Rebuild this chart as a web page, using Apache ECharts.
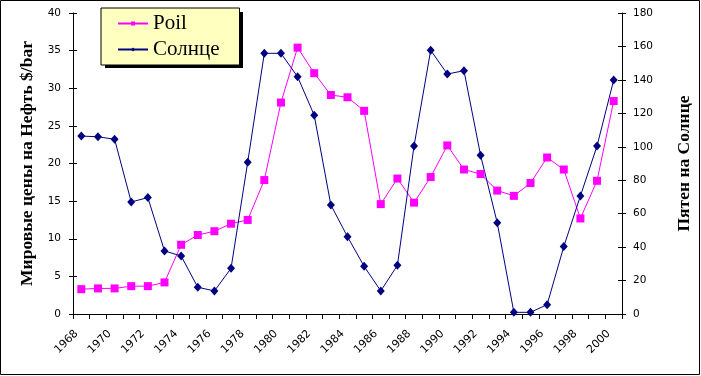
<!DOCTYPE html>
<html>
<head>
<meta charset="utf-8">
<script src="https://cdn.jsdelivr.net/npm/echarts@6/dist/echarts.min.js"></script>
<style>
html,body{margin:0;padding:0;background:#fff;}
#c{width:701px;height:376px;}
</style>
</head>
<body>
<div id="c"></div>
<script>
var years = ['1968','1969','1970','1971','1972','1973','1974','1975','1976','1977','1978','1979','1980','1981','1982','1983','1984','1985','1986','1987','1988','1989','1990','1991','1992','1993','1994','1995','1996','1997','1998','1999','2000'];
var poil = [3.3,3.4,3.4,3.7,3.7,4.2,9.2,10.5,11.0,12.0,12.5,17.8,28.1,35.4,32.0,29.1,28.8,27.0,14.6,18.0,14.8,18.2,22.4,19.2,18.6,16.4,15.7,17.4,20.8,19.2,12.7,17.7,28.3];
var sun = [106.4,106.0,104.5,67.0,69.6,37.7,34.7,16.0,13.8,27.3,90.7,155.9,155.9,141.9,118.8,65.2,46.2,28.5,13.8,29.1,100.5,157.7,143.5,145.5,94.9,54.6,1,1,5.6,40.3,70.6,100.5,139.9];
var leftTicks = {min:0, max:40, interval:5};
var rightTicks = {min:0, max:180, interval:20};
var serif = "'Liberation Serif','Times New Roman',serif";
var sans = "'DejaVu Sans',sans-serif";

var chart = echarts.init(document.getElementById('c'), null, {renderer:'canvas'});
var axisLine = {show:true, lineStyle:{color:'#000', width:1}};
chart.setOption({
  animation:false,
  backgroundColor:'#fff',
  textStyle:{fontFamily:serif},
  grid:{left:73, right:79, top:13, bottom:62, containLabel:false},
  graphic:[
    {type:'rect', shape:{x:0.5,y:0.5,width:699,height:374}, style:{fill:'none', stroke:'#000', lineWidth:1}, z:100},
    {type:'rect', shape:{x:105,y:12,width:138,height:56}, style:{fill:'#000'}, z:1}
  ],
  legend:{
    orient:'vertical', left:101, top:8,
    itemWidth:30, itemHeight:5, itemGap:5,
    padding:[5,20,5,16],
    backgroundColor:'#FFFFC0', borderColor:'#000', borderWidth:1,
    textStyle:{fontFamily:serif, fontSize:21, color:'#000'},
    data:['Poil','Солнце'],
    z:5
  },
  xAxis:{
    type:'category', data:years, boundaryGap:true,
    axisLine:axisLine,
    axisTick:{show:true, interval:0, length:5, lineStyle:{color:'#000'}},
    axisLabel:{show:true, interval:1, rotate:45, margin:13, fontFamily:sans, fontSize:11, color:'#000',
      formatter:function(v){ return v + '\u00a0\u00a0'; }},
    splitLine:{show:false}
  },
  yAxis:[
    {type:'value', position:'left', min:leftTicks.min, max:leftTicks.max, interval:leftTicks.interval,
     name:'Мировые цены на Нефть $/bar', nameLocation:'middle', nameRotate:90, nameGap:36,
     nameTextStyle:{fontFamily:serif, fontSize:17.5, fontWeight:'bold', color:'#000'},
     axisLine:axisLine, axisTick:{show:true, length:4, lineStyle:{color:'#000'}},
     axisLabel:{margin:12, fontFamily:sans, fontSize:10.5, color:'#000'}, splitLine:{show:false}},
    {type:'value', position:'left', min:leftTicks.min, max:leftTicks.max, interval:leftTicks.interval,
     axisLine:{show:false}, axisTick:{show:true, inside:true, length:4, lineStyle:{color:'#000'}},
     axisLabel:{show:false}, splitLine:{show:false}},
    {type:'value', position:'right', min:rightTicks.min, max:rightTicks.max, interval:rightTicks.interval,
     name:'Пятен на Солнце', nameLocation:'middle', nameRotate:90, nameGap:53,
     nameTextStyle:{fontFamily:serif, fontSize:17.5, fontWeight:'bold', color:'#000'},
     axisLine:axisLine, axisTick:{show:true, length:4, lineStyle:{color:'#000'}},
     axisLabel:{margin:11, fontFamily:sans, fontSize:10.5, color:'#000'}, splitLine:{show:false}},
    {type:'value', position:'right', min:rightTicks.min, max:rightTicks.max, interval:rightTicks.interval,
     axisLine:{show:false}, axisTick:{show:true, inside:true, length:4, lineStyle:{color:'#000'}},
     axisLabel:{show:false}, splitLine:{show:false}}
  ],
  series:[
    {name:'Poil', type:'line', yAxisIndex:0, data:poil, symbol:'rect', symbolSize:8,
     itemStyle:{color:'#FF00FF'}, lineStyle:{color:'#FF00FF', width:1}},
    {name:'Солнце', type:'line', yAxisIndex:2, data:sun, symbol:'diamond', symbolSize:[8,9],
     itemStyle:{color:'#000080'}, lineStyle:{color:'#000080', width:1}}
  ]
});
</script>
</body>
</html>
